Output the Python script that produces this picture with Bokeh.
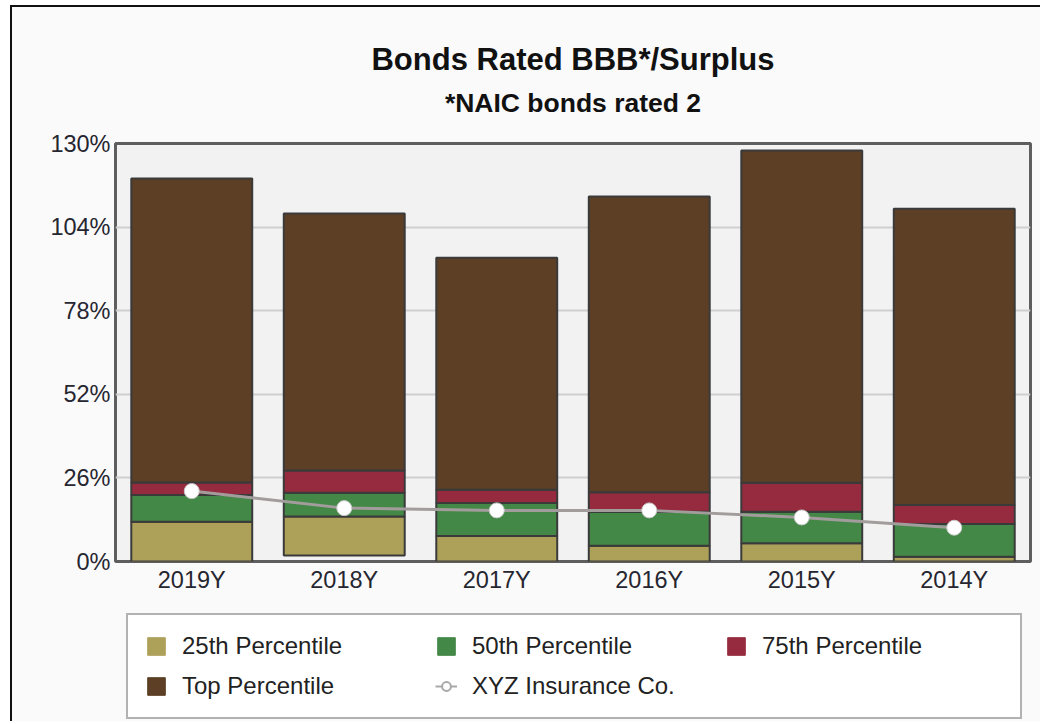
from bokeh.plotting import figure
from bokeh.models import ColumnDataSource, Title, Legend, LegendItem, FactorRange
from bokeh.layouts import column
from bokeh.embed import file_html
from bokeh.resources import INLINE

years = ["2019Y", "2018Y", "2017Y", "2016Y", "2015Y", "2014Y"]
p_min = [0.0, 1.9, 0.0, 0.0, 0.0, 0.0]
p25 = [12.4, 14.0, 7.9, 4.9, 5.7, 1.5]
p50 = [20.7, 21.4, 18.2, 15.5, 15.5, 11.7]
p75 = [24.6, 28.3, 22.3, 21.5, 24.5, 17.6]
p_top = [119.1, 108.2, 94.5, 113.5, 127.8, 109.7]
xyz = [21.9, 16.6, 15.9, 15.9, 13.7, 10.5]
y_ticks = [0, 26, 52, 78, 104, 130]
series_names = ["25th Percentile", "50th Percentile", "75th Percentile",
                "Top Percentile", "XYZ Insurance Co."]
series_colors = ["#ADA15A", "#438847", "#962B3F", "#5C3F24"]

src = ColumnDataSource(dict(years=years, p_min=p_min, p25=p25, p50=p50,
                            p75=p75, p_top=p_top, xyz=xyz))

FONT = "Liberation Sans"
BG = "#FAFAFA"

p = figure(x_range=FactorRange(*years, range_padding=0), y_range=(0, 130),
           frame_width=915, frame_height=418, output_backend="svg", toolbar_location=None,
           min_border_left=103, min_border_right=10, min_border_top=136,
           min_border_bottom=40)

p.background_fill_color = "#F2F2F2"
p.border_fill_color = BG
p.outline_line_color = "#5E5E5E"
p.outline_line_width = 3

p.xgrid.grid_line_color = None
p.ygrid.grid_line_color = "#CFCFCF"
p.ygrid.grid_line_width = 2
p.yaxis.ticker = y_ticks
p.yaxis.major_label_overrides = {v: f"{v}%" for v in y_ticks}

for ax in (p.xaxis[0], p.yaxis[0]):
    ax.axis_line_color = None
    ax.major_tick_line_color = None
    ax.minor_tick_line_color = None
    ax.major_tick_out = 0
    ax.major_tick_in = 0
    ax.major_label_text_font = FONT
    ax.major_label_text_font_size = "23.5px"
    ax.major_label_text_color = "#262630"
p.yaxis.major_label_standoff = 5
p.xaxis.major_label_standoff = 5

W = 0.793
OL = "#3A3A3A"
p.vbar(x="years", bottom="p_min", top="p25", width=W, source=src,
       fill_color=series_colors[0], line_color=OL, line_width=2)
p.vbar(x="years", bottom="p25", top="p50", width=W, source=src,
       fill_color=series_colors[1], line_color=OL, line_width=2)
p.vbar(x="years", bottom="p50", top="p75", width=W, source=src,
       fill_color=series_colors[2], line_color=OL, line_width=2)
p.vbar(x="years", bottom="p75", top="p_top", width=W, source=src,
       fill_color=series_colors[3], line_color=OL, line_width=2)
p.line(x="years", y="xyz", source=src, line_color="#A39C9C", line_width=3)
p.scatter(x="years", y="xyz", source=src, size=15, fill_color="white",
          line_color="#C8C8C8", line_width=1)

sub = Title(text="*NAIC bonds rated 2", align="center", text_font=FONT,
            text_font_size="26.5px", text_font_style="bold", text_color="#111111",
            standoff=51)
main = Title(text="Bonds Rated BBB*/Surplus", align="center", text_font=FONT,
             text_font_size="31px", text_font_style="bold", text_color="#111111",
             standoff=-33)
p.add_layout(sub, "above")
p.add_layout(main, "above")

# legend figure below the chart (frames are aligned by the column layout)
lf = figure(width=1028, height=120, x_range=(0, 1), y_range=(0, 1),
            x_axis_type=None, y_axis_type=None, output_backend="svg",
            toolbar_location=None, min_border=0)
lf.outline_line_color = None
lf.background_fill_color = BG
lf.border_fill_color = BG
lf.grid.grid_line_color = None
off = ColumnDataSource(dict(x=[-9.0], y=[-9.0]))
items = []
for name, col in zip(series_names[:4], series_colors):
    r = lf.vbar(x="x", top="y", width=0.1, source=off, fill_color=col,
                line_color=col, line_width=1)
    items.append(LegendItem(label=name, renderers=[r]))
rl = lf.line(x="x", y="y", source=off, line_color="#A8A8A8", line_width=2)
rc = lf.scatter(x="x", y="y", source=off, size=13, fill_color="white",
                line_color="#A8A8A8", line_width=2)
items.append(LegendItem(label=series_names[4], renderers=[rl, rc]))

legend = Legend(items=items, location=(11, 2), orientation="horizontal", ncols=3)
legend.label_text_font = FONT
legend.label_text_font_size = "24px"
legend.label_text_color = "#222222"
legend.glyph_width = 22
legend.glyph_height = 22
legend.label_standoff = 15
legend.label_width = 241
legend.label_height = 28
legend.spacing = 12
legend.padding = 17
legend.margin = 0
legend.border_line_color = "#666666"
legend.border_line_width = 2
legend.background_fill_color = "white"
legend.background_fill_alpha = 1
lf.add_layout(legend, "center")

layout = column(p, lf, spacing=0)
layout.styles = {"border-left": "2px solid #111", "border-top": "2px solid #111",
                 "margin-left": "10px", "margin-top": "5px",
                 "background-color": BG}

open("out.html", "w").write(file_html(layout, INLINE))
